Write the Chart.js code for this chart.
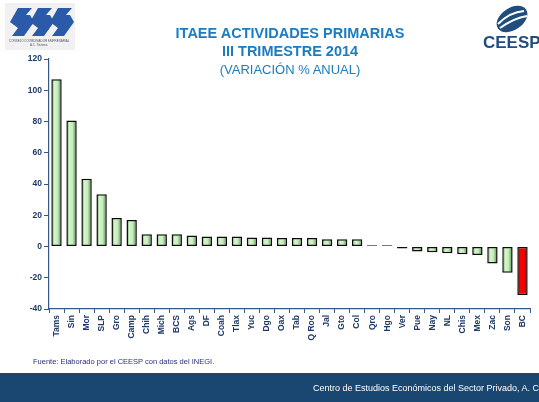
<!DOCTYPE html>
<html>
<head>
<meta charset="utf-8">
<script src="https://cdn.jsdelivr.net/npm/chart.js@4/dist/chart.umd.min.js"></script>
<style>
  body { margin: 0; background: #fff; font-family: "Liberation Sans", Arial, sans-serif; }
  #wrap { position: relative; width: 539px; height: 402px; overflow: hidden; }
  #chart { position: absolute; left: 0; top: 0; }
  .t { position: absolute; left: 150px; width: 280px; text-align: center; color: #1b7cc0; white-space: nowrap; }
  #t1 { top: 25px; font-size: 14.5px; font-weight: bold; }
  #t2 { top: 43px; font-size: 14.5px; font-weight: bold; }
  #t3 { top: 62px; font-size: 13px; }
  #src { position: absolute; left: 33px; top: 357px; font-size: 7.5px; color: #2a2f80; }
  #foot { position: absolute; left: 0; top: 373px; width: 539px; height: 29px; background: #1a4672; }
  #foot span { position: absolute; left: 313px; top: 10px; font-size: 9px; color: #fff; white-space: nowrap; }
</style>
</head>
<body>
<div id="wrap">
  <canvas id="chart" width="539" height="402"></canvas>
  <div class="t" id="t1">ITAEE ACTIVIDADES PRIMARIAS</div>
  <div class="t" id="t2">III TRIMESTRE 2014</div>
  <div class="t" id="t3">(VARIACIÓN % ANUAL)</div>
  <div id="src">Fuente: Elaborado por el CEESP con datos del INEGI.</div>
  <div id="foot"><span>Centro de Estudios Económicos del Sector Privado, A. C.</span></div>
</div>
<script>
// estados, ordenados de mayor a menor variación
const states = ['Tams', 'Sin', 'Mor', 'SLP', 'Gro', 'Camp', 'Chih', 'Mich', 'BCS', 'Ags',
  'DF', 'Coah', 'Tlax', 'Yuc', 'Dgo', 'Oax', 'Tab', 'Q Roo', 'Jal', 'Gto', 'Col',
  'Qro', 'Hgo', 'Ver', 'Pue', 'Nay', 'NL', 'Chis', 'Mex', 'Zac', 'Son', 'BC'];
const variacion = [107.0, 80.6, 43.3, 33.5, 18.2, 16.9, 7.9, 7.9, 7.8, 7.0,
  6.4, 6.4, 6.4, 5.8, 5.8, 5.4, 5.4, 5.4, 4.7, 4.7, 4.7,
  0.8, 0.8, -1.3, -3.2, -3.6, -4.3, -4.9, -5.5, -10.9, -16.8, -31.1];
const highlighted = ['BC'];
const yTicks = [-40, -20, 0, 20, 40, 60, 80, 100, 120];

const BAR_PCT = 0.69;
const axisColor = '#34588c';
const labelColor = '#1f3a68';

function barFill(c) {
  const chart = c.chart;
  const ca = chart.chartArea;
  const red = highlighted.includes(states[c.dataIndex]);
  if (!ca) return red ? '#ff0000' : '#c8efbf';
  const cx = chart.scales.x.getPixelForValue(c.dataIndex);
  const w = ca.width / states.length * BAR_PCT;
  const g = chart.ctx.createLinearGradient(cx - w / 2, 0, cx + w / 2, 0);
  if (red) {
    g.addColorStop(0, '#9a0000');
    g.addColorStop(0.3, '#ff0000');
    g.addColorStop(0.7, '#f00000');
    g.addColorStop(1, '#a00000');
  } else {
    g.addColorStop(0, '#5f8e59');
    g.addColorStop(0.3, '#d4f7cb');
    g.addColorStop(0.6, '#c2edb8');
    g.addColorStop(1, '#527e4c');
  }
  return g;
}

// logos dibujados a mano (aproximados)
const logos = {
  id: 'logos',
  beforeDraw(chart) {
    const ctx = chart.ctx;
    ctx.save();
    ctx.fillStyle = '#f1f1f1';
    ctx.fillRect(5, 3, 70, 47);
    ctx.fillStyle = '#2b5ba8';
    for (let i = 0; i < 3; i++) {
      const x = 10 + i * 20;
      ctx.beginPath();
      ctx.moveTo(x + 8, 8);
      ctx.lineTo(x + 22, 8);
      ctx.lineTo(x + 16, 15);
      ctx.lineTo(x + 20, 15);
      ctx.lineTo(x + 24, 22);
      ctx.lineTo(x + 14, 36);
      ctx.lineTo(x + 2, 36);
      ctx.lineTo(x + 8, 28);
      ctx.lineTo(x + 0, 22);
      ctx.closePath();
      ctx.fill();
    }
    ctx.fillStyle = '#556';
    ctx.font = '3px "Liberation Sans", Arial';
    ctx.fillText('CONSEJO COORDINADOR EMPRESARIAL', 9, 42);
    ctx.fillText('A.C. Sistema', 30, 46);

    ctx.fillStyle = '#1f4e7d';
    ctx.beginPath();
    ctx.ellipse(512, 19, 17, 11, -0.6, 0, Math.PI * 2);
    ctx.fill();
    ctx.strokeStyle = '#fff';
    ctx.lineWidth = 2;
    ctx.beginPath();
    ctx.moveTo(498, 24); ctx.quadraticCurveTo(510, 12, 524, 11);
    ctx.moveTo(500, 28); ctx.quadraticCurveTo(514, 18, 527, 16);
    ctx.stroke();
    ctx.fillStyle = '#1f4e7d';
    ctx.font = 'bold 17px "Liberation Sans", Arial';
    ctx.fillText('CEESP', 483, 48);
    ctx.restore();
  }
};

new Chart(document.getElementById('chart'), {
  type: 'bar',
  data: {
    labels: states,
    datasets: [{
      data: variacion,
      backgroundColor: barFill,
      borderColor: '#0c0c0c',
      borderWidth: 1.5,
      borderSkipped: false,
      barPercentage: BAR_PCT,
      categoryPercentage: 1
    }]
  },
  options: {
    responsive: false,
    animation: false,
    layout: { padding: { top: 59, left: 0, right: 9, bottom: 0 } },
    plugins: { legend: { display: false }, tooltip: { enabled: false } },
    scales: {
      x: {
        afterFit: s => { s.height = 93; },
        border: { color: axisColor, width: 1.2 },
        grid: { display: true, drawOnChartArea: false, offset: true, tickLength: 4, color: axisColor },
        ticks: {
          minRotation: 90, maxRotation: 90, autoSkip: false, padding: 2,
          color: labelColor, font: { family: '"Liberation Sans", Arial', size: 8.5, weight: 'bold' }
        }
      },
      y: {
        min: -40, max: 120,
        afterFit: s => { s.width = 49; },
        afterBuildTicks: s => { s.ticks = yTicks.map(v => ({ value: v })); },
        border: { color: axisColor, width: 1.2 },
        grid: { display: true, drawOnChartArea: false, tickLength: 5, color: axisColor },
        ticks: {
          padding: 2,
          color: labelColor, font: { family: '"Liberation Sans", Arial', size: 8.5, weight: 'bold' }
        }
      }
    }
  },
  plugins: [logos]
});
</script>
</body>
</html>
